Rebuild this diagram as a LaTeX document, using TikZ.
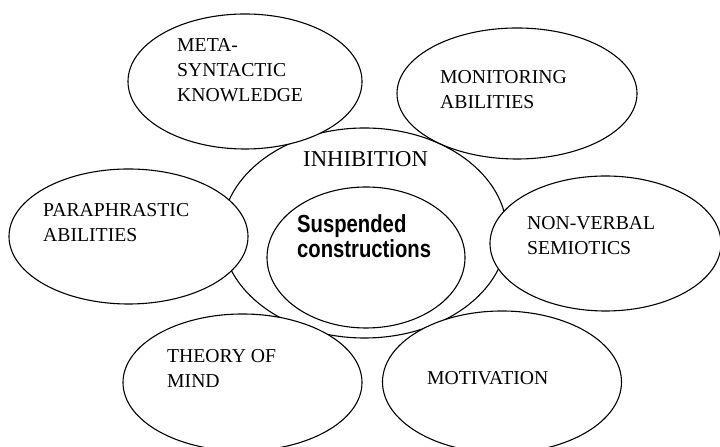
\documentclass[tikz,border=0pt]{standalone}
\usepackage{fontspec}
\setmainfont{Liberation Serif}
\newfontfamily\boldsans[FakeStretch=0.82]{Liberation Sans}
\usetikzlibrary{shapes.geometric}

\begin{document}
\begin{tikzpicture}[x=1bp,y=1bp,
    bubble/.style={draw,ellipse,fill=white,line width=1.1bp,inner sep=0pt},
    lbl/.style={anchor=base west,align=left,inner sep=0pt,
        font=\fontsize{19.7bp}{25bp}\selectfont}]
    \useasboundingbox (0,0) rectangle (720,447);
    \node[bubble,minimum width=285bp,minimum height=210bp] (inhib) at (364.5,214) {};
    \node[bubble,minimum width=198bp,minimum height=141bp] (susp) at (366,189.5) {};
    \node[bubble,minimum width=234bp,minimum height=135bp] (meta) at (245,365.5) {};
    \node[bubble,minimum width=240bp,minimum height=131bp] (monitor) at (517,353.5) {};
    \node[bubble,minimum width=239bp,minimum height=135bp] (para) at (128.5,210.5) {};
    \node[bubble,minimum width=231bp,minimum height=135bp] (nonverb) at (605.5,203.5) {};
    \node[bubble,minimum width=239bp,minimum height=137bp] (theory) at (242.5,64.5) {};
    \node[bubble,minimum width=239bp,minimum height=142bp] (motiv) at (502,65) {};
    \node[lbl,font=\fontsize{22.7bp}{25bp}\selectfont] (inhibtxt) at (303,280.5) {INHIBITION};
    \node[lbl,font=\boldsans\bfseries\fontsize{24.7bp}{25bp}\selectfont] (susptxt) at (297,189) {Suspended\\constructions};
    \node[lbl] (metatxt) at (177,345) {META-\\SYNTACTIC\\KNOWLEDGE};
    \node[lbl] (monitortxt) at (440,338) {MONITORING\\ABILITIES};
    \node[lbl] (paratxt) at (43,205) {PARAPHRASTIC\\ABILITIES};
    \node[lbl] (nonverbtxt) at (527,192) {NON-VERBAL\\SEMIOTICS};
    \node[lbl] (theorytxt) at (167,59) {THEORY OF\\MIND};
    \node[lbl] (motivtxt) at (427,62) {MOTIVATION};
\end{tikzpicture}
\end{document}
